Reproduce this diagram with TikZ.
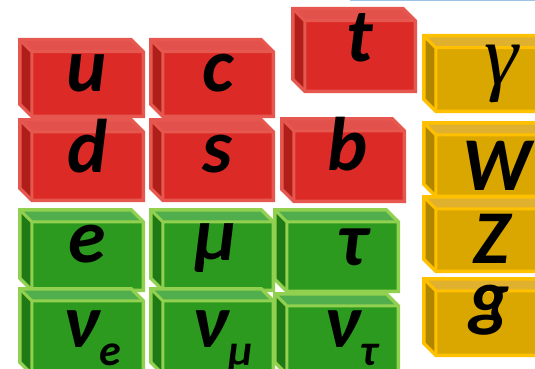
\documentclass[tikz,border=0pt]{standalone}
\usepackage{fontspec}
\setmainfont{Carlito}
\newfontfamily\gsf{Liberation Serif}
\definecolor{redfront}{HTML}{DC2A26}
\definecolor{redtop}{HTML}{E2514B}
\definecolor{redside}{HTML}{B01E1A}
\definecolor{redline}{HTML}{E5574F}
\definecolor{grnfront}{HTML}{2C9A1E}
\definecolor{grntop}{HTML}{50AE4C}
\definecolor{grnside}{HTML}{1F7A15}
\definecolor{grnline}{HTML}{92D050}
\definecolor{gldfront}{HTML}{DAA600}
\definecolor{gldtop}{HTML}{E0B12E}
\definecolor{gldside}{HTML}{B08600}
\definecolor{gldline}{HTML}{FFC000}
\definecolor{topblue}{HTML}{9DC3E6}
\newcommand\brick[5]{%
 \pgfmathsetmacro\ax{#1+1.75}\pgfmathsetmacro\ay{#2+1.75}%
 \pgfmathsetmacro\bx{#3-1.75}\pgfmathsetmacro\by{#4-1.75}%
 \pgfmathsetmacro\cx{\ax+12}\pgfmathsetmacro\cy{\ay+12}%
 \pgfmathsetmacro\ex{\bx-12}\pgfmathsetmacro\fy{\by-12}%
 \fill[#5front] (\cx,\cy) rectangle (\bx,\by);
 \fill[#5top] (\ax,\ay)--(\ex,\ay)--(\bx,\cy)--(\cx,\cy)--cycle;
 \fill[#5side] (\ax,\ay)--(\cx,\cy)--(\cx,\by)--(\ax,\fy)--cycle;
 \draw[#5line, line width=3pt] (\ax,\ay)--(\cx,\cy)--(\bx,\cy) (\cx,\cy)--(\cx,\by);
 \draw[#5line, line width=3.5pt, line join=miter] (\ax,\ay)--(\ex,\ay)--(\bx,\cy)--(\bx,\by)--(\cx,\by)--(\ax,\fy)--cycle;
}
\tikzset{
 lbl/.style={anchor=base, inner sep=0pt, text=black,
   font=\fontsize{76}{80}\selectfont\bfseries\itshape}
}
\newcommand\subtext[2]{#1\raisebox{-18pt}{\fontsize{44}{46}\selectfont #2}}
\begin{document}
\begin{tikzpicture}[x=1pt,y=-1pt]
\useasboundingbox (0,0) rectangle (535,369);
\clip (0,0) rectangle (535,369);
\draw[topblue, line width=1.2pt] (350,0.6) -- (535,0.6);
% quarks
\brick{18}{38}{145}{118}{red}
\brick{149}{38}{275}{118}{red}
\brick{291}{7}{417}{93}{red}
\brick{18}{118}{145}{202}{red}
\brick{149}{118}{275}{202}{red}
\brick{280}{117}{406}{203}{red}
% leptons
\brick{18}{208}{145}{292}{grn}
\brick{149}{208}{275}{292}{grn}
\brick{273}{208}{400}{293}{grn}
\brick{18}{287}{145}{376}{grn}
\brick{149}{287}{275}{376}{grn}
\brick{273}{292}{400}{376}{grn}
% bosons
\brick{422}{34}{550}{113}{gld}
\brick{422}{121}{550}{198}{gld}
\brick{422}{195}{550}{273}{gld}
\brick{422}{277}{550}{357}{gld}
% labels
\node[lbl] (u) at (87,92) {u};
\node[lbl] (c) at (218,92) {c};
\node[lbl] (t) at (360,62) {t};
\node[lbl] (d) at (88,172) {d};
\node[lbl] (s) at (217,172) {s};
\node[lbl] (b) at (348,170) {b};
\node[lbl] (e) at (87,262) {e};
\node[lbl] (mu) at (216,260) {μ};
\node[lbl] (tau) at (352,265) {τ};
\node[lbl] (nue) at (92,347) {\subtext{ν}{e}};
\node[lbl] (numu) at (223,347) {\subtext{ν}{μ}};
\node[lbl] (nutau) at (351,347) {\subtext{ν}{τ}};
\node[lbl, font=\fontsize{86}{90}\selectfont\gsf\itshape] (gamma) at (501,84) {γ};
\node[lbl] (W) at (497,190) {W};
\node[lbl] (Z) at (492,263) {Z};
\node[lbl] (g) at (490,322) {g};
\end{tikzpicture}
\end{document}
